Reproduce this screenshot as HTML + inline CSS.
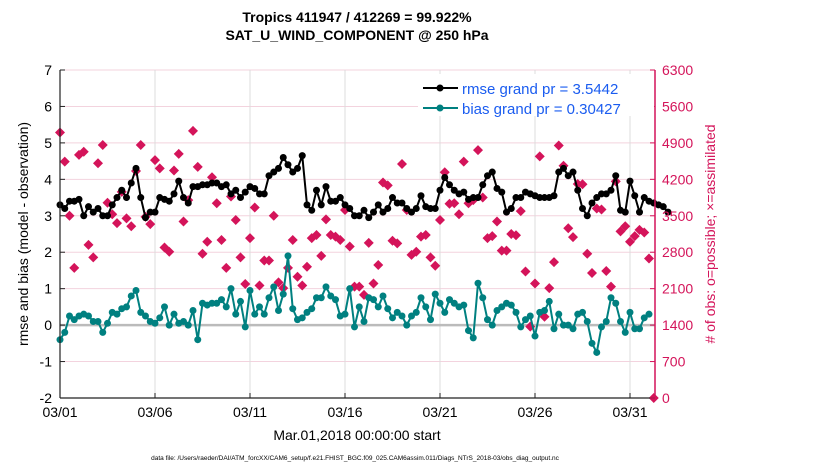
<!DOCTYPE html>
<html><head><meta charset="utf-8"><style>
body{margin:0;background:#fff;width:830px;height:470px;overflow:hidden}
svg text{font-family:"Liberation Sans",sans-serif}
</style></head><body>
<svg id="chart" width="830" height="470" xmlns="http://www.w3.org/2000/svg">
<g id="grid"></g>
<g id="marks"></g>
<g id="axes"></g>
<text x="357" y="22" font-size="14" font-weight="bold" text-anchor="middle">Tropics 411947 / 412269 = 99.922%</text>
<text x="357" y="40" font-size="14" font-weight="bold" text-anchor="middle">SAT_U_WIND_COMPONENT @ 250 hPa</text>
<text x="357" y="440" font-size="14" text-anchor="middle">Mar.01,2018 00:00:00 start</text>
<text transform="translate(28,234) rotate(-90)" font-size="14" text-anchor="middle">rmse and bias (model - observation)</text>
<text transform="translate(715,234) rotate(-90)" font-size="14" text-anchor="middle" fill="#d4145a"># of obs: o=possible; ×=assimilated</text>
<text x="355" y="460" font-size="6.5" text-anchor="middle">data file: /Users/raeder/DAI/ATM_forcXX/CAM6_setup/f.e21.FHIST_BGC.f09_025.CAM6assim.011/Diags_NTrS_2018-03/obs_diag_output.nc</text>
<g>
<rect x="418" y="74" width="236" height="42" fill="#fff"/>
<line x1="423" y1="88" x2="458" y2="88" stroke="#000" stroke-width="2"/><circle cx="440" cy="88" r="3.5" fill="#000"/>
<text x="462" y="94" font-size="15" fill="#1a5cf0">rmse grand pr = 3.5442</text>
<line x1="423" y1="108" x2="458" y2="108" stroke="#008080" stroke-width="2"/><circle cx="440" cy="108" r="3.5" fill="#008080"/>
<text x="462" y="114" font-size="15" fill="#1a5cf0">bias grand pr = 0.30427</text>
</g>
</svg>
<script>
const rmse=[3.3,3.2,3.4,3.4,3.45,3.0,3.25,3.1,3.2,3.0,3.0,3.3,3.5,3.7,3.5,3.9,4.3,3.5,2.95,3.1,3.1,3.5,3.45,3.4,3.6,3.95,3.5,3.35,3.8,3.8,3.85,3.85,3.9,
3.9,3.8,3.85,3.6,3.7,3.5,3.65,3.8,3.75,3.6,3.6,4.1,4.2,4.3,4.6,4.4,4.2,4.3,4.65,3.3,3.15,3.7,3.3,3.8,3.4,3.4,3.5,3.3,3.2,3.0,3.0,3.15,2.95,3.1,
3.3,3.1,3.2,3.5,3.35,3.35,3.2,3.1,3.2,3.55,3.25,3.2,3.2,3.7,4.05,3.85,3.7,3.6,3.65,3.45,3.5,3.5,3.85,4.1,4.2,3.75,3.65,3.1,3.2,3.5,3.5,3.65,
3.6,3.55,3.5,3.5,3.5,3.55,4.2,4.3,4.1,4.2,3.7,3.2,3.0,3.35,3.5,3.6,3.6,3.7,4.1,3.15,3.1,3.95,3.55,3.1,3.5,3.4,3.35,3.3,3.25,3.1];
const bias=[-0.4,-0.2,0.25,0.15,0.25,0.3,0.25,0.1,0.1,-0.2,0.05,0.35,0.3,0.45,0.5,0.8,0.95,0.35,0.25,0.1,0.05,0.2,0.5,0.0,0.3,0.05,0.1,0.0,0.4,-0.4,0.6,0.55,0.6,
0.6,0.7,0.5,1.0,0.3,0.65,-0.05,0.95,0.3,0.5,0.3,0.75,1.05,0.4,0.85,1.9,0.45,0.15,0.2,0.35,0.45,0.75,0.75,1.05,0.8,0.7,0.25,0.3,1.0,-0.05,0.5,
0.1,0.75,0.7,0.5,0.8,0.45,0.2,0.35,0.25,0.0,0.25,0.35,0.75,0.5,0.15,0.85,0.6,0.35,0.7,0.6,0.5,0.55,-0.15,-0.35,1.15,0.75,0.15,0.0,0.4,0.5,0.6,
0.55,0.35,-0.05,0.15,0.25,-0.3,0.35,0.4,0.65,-0.1,0.3,0.0,0.0,-0.1,0.3,0.35,0.1,-0.5,-0.75,-0.05,0.1,0.75,0.6,0.1,-0.2,0.35,-0.1,-0.1,0.2,0.3];
const obs=[5100,4540,3500,2500,4670,4730,2940,2700,4510,4860,3750,3530,3360,3960,3450,3300,4360,4860,3480,3340,4570,4410,2890,2810,4370,4690,3390,3800,5130,4440,2770,3000,
4240,3740,3035,2500,3870,3420,2700,2190,3070,3660,2160,2640,2640,3500,2220,2110,2500,3035,2330,2160,2520,3070,3130,2730,3430,3130,3100,3035,3610,2910,2140,
2140,1980,2980,2200,2555,4140,4085,3020,2970,4495,3610,2750,2810,3100,3130,2700,2540,3420,4335,3730,3740,3530,4540,3740,3800,4760,3850,3070,3110,3390,2830,
2830,3150,3125,3590,2430,1370,2200,4640,1560,2110,2610,4850,4460,3260,3090,4110,4105,2770,2400,3640,3620,2440,2140,4160,3200,3300,3000,3110,3230,3180,2680,0];
const xTicks=['03/01','03/06','03/11','03/16','03/21','03/26','03/31'];
const yTicksL=[-2,-1,0,1,2,3,4,5,6,7];
const yTicksR=[0,700,1400,2100,2800,3500,4200,4900,5600,6300];

const NS='http://www.w3.org/2000/svg';
const L=60,R=655,T=70,B=398;
const xs=i=>L+i*4.75;               // 6-hourly steps, 19px/day
const xd=d=>L+d*19;
const yl=v=>B-(v+2)/9*(B-T);
const yr=v=>B-v/6300*(B-T);
function mk(tag,attrs,parent){const e=document.createElementNS(NS,tag);for(const k in attrs)e.setAttribute(k,attrs[k]);document.getElementById(parent).appendChild(e);return e;}
// grid
yTicksR.forEach(v=>{const e=mk('line',{x1:L,x2:R,y1:yr(v),y2:yr(v),stroke:'#f3d3de','stroke-width':1},'grid');

});
xTicks.forEach((t,i)=>{const e=mk('line',{x1:xd(i*5),x2:xd(i*5),y1:T,y2:B,stroke:'#dcdcdc','stroke-width':1},'grid');

});
const z=mk('line',{x1:L,x2:R,y1:yl(0),y2:yl(0),stroke:'#bbb','stroke-width':2.5},'grid');


// obs diamonds
obs.forEach((v,i)=>{const x=xs(i),y=yr(v);const e=mk('path',{d:`M${x},${y-5}L${x+5},${y}L${x},${y+5}L${x-5},${y}Z`,fill:'#d4145a'},'marks');

});
function series(arr,col,name){
 const p=mk('polyline',{points:arr.map((v,i)=>xs(i)+','+yl(v)).join(' '),fill:'none',stroke:col,'stroke-width':2},'marks');
 
 
 arr.forEach((v,i)=>{const c=mk('circle',{cx:xs(i),cy:yl(v),r:3.5,fill:col},'marks');
 
 });
}
series(bias,'#008080','bias');
series(rmse,'#000','rmse');
// axes
const a1=mk('line',{x1:L,x2:L,y1:T,y2:B,stroke:'#222','stroke-width':1.2},'axes');


const a2=mk('line',{x1:R,x2:R,y1:T,y2:B,stroke:'#d4145a','stroke-width':1.5},'axes');


const a3=mk('line',{x1:L,x2:R,y1:B,y2:B,stroke:'#222','stroke-width':1.2},'axes');


yTicksL.forEach(v=>{const y=yl(v);
 const tk=mk('line',{x1:L,x2:L+5,y1:y,y2:y,stroke:'#222'},'axes');
 
 
 const t=mk('text',{x:L-8,y:y+5,'font-size':14,'text-anchor':'end'},'axes');t.textContent=v;
 
 });
yTicksR.forEach(v=>{const y=yr(v);
 const tk=mk('line',{x1:R-5,x2:R,y1:y,y2:y,stroke:'#d4145a'},'axes');
 
 
 const t=mk('text',{x:R+7,y:y+5,'font-size':14,fill:'#d4145a'},'axes');t.textContent=v;
 
 });
xTicks.forEach((s,i)=>{const x=xd(i*5);
 const tk=mk('line',{x1:x,x2:x,y1:B-5,y2:B,stroke:'#222'},'axes');
 
 
 const t=mk('text',{x:x,y:B+19,'font-size':14,'text-anchor':'middle'},'axes');t.textContent=s;
 
 });
</script>
</body></html>
